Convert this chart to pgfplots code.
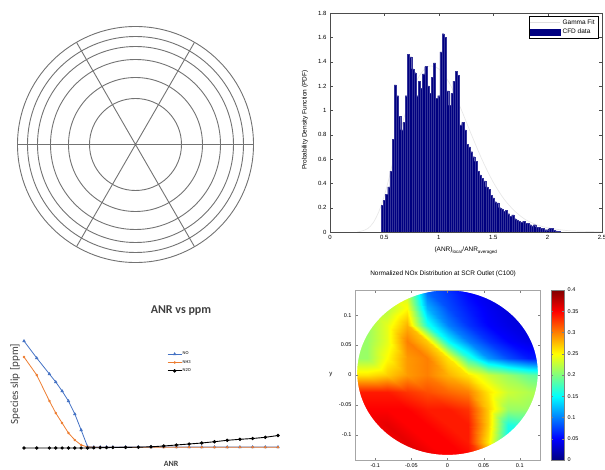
\documentclass[border=0pt]{standalone}
\usepackage{pgfplots}
\usepackage{pgfplotstable}
\pgfplotsset{compat=1.18}
\usepgfplotslibrary{polar}
\usepackage{fontspec}
\setmainfont{Liberation Sans}
\newfontfamily\calibri{Carlito}
\definecolor{xlblue}{HTML}{4472C4}
\definecolor{xlorange}{HTML}{ED7D31}
\definecolor{xlgray}{HTML}{404040}
\definecolor{mnavy}{rgb}{0,0,0.5}

\pgfplotstableread{
x y
0.47 0.22
0.49 0.26
0.51 0.31
0.53 0.37
0.55 0.50
0.57 0.76
0.59 1.21
0.61 1.12
0.63 0.95
0.65 0.84
0.67 0.90
0.69 1.12
0.71 1.46
0.73 1.44
0.75 1.34
0.77 1.31
0.79 1.12
0.81 1.24
0.83 1.18
0.85 1.30
0.87 1.36
0.89 1.20
0.91 1.14
0.93 1.27
0.95 1.39
0.97 1.10
0.99 1.12
1.01 1.48
1.03 1.63
1.05 1.60
1.07 1.16
1.09 1.04
1.11 1.14
1.13 1.24
1.15 1.32
1.17 1.29
1.19 0.88
1.21 0.90
1.23 0.84
1.25 0.72
1.27 0.70
1.29 0.66
1.31 0.62
1.33 0.58
1.35 0.50
1.37 0.47
1.39 0.44
1.41 0.42
1.43 0.37
1.45 0.35
1.47 0.30
1.49 0.28
1.51 0.25
1.53 0.24
1.55 0.20
1.57 0.19
1.59 0.17
1.61 0.18
1.63 0.15
1.65 0.13
1.67 0.14
1.69 0.11
1.71 0.10
1.73 0.09
1.75 0.08
1.77 0.09
1.79 0.07
1.81 0.07
1.83 0.06
1.85 0.05
1.87 0.06
1.89 0.04
1.91 0.04
1.93 0.03
1.95 0.03
1.97 0.02
1.99 0.02
2.01 0.03
2.03 0.03
2.05 0.015
2.07 0.01
2.09 0.005
2.11 0
}\histdata

\pgfplotstableread{
x y z
-0.14 -0.14 0.35
-0.112 -0.14 0.35
-0.084 -0.14 0.35
-0.056 -0.14 0.36
-0.028 -0.14 0.36
0 -0.14 0.35
0.028 -0.14 0.35
0.056 -0.14 0.30
0.084 -0.14 0.20
0.112 -0.14 0.16
0.14 -0.14 0.17
-0.14 -0.112 0.35
-0.112 -0.112 0.35
-0.084 -0.112 0.35
-0.056 -0.112 0.36
-0.028 -0.112 0.35
0 -0.112 0.35
0.028 -0.112 0.34
0.056 -0.112 0.26
0.084 -0.112 0.15
0.112 -0.112 0.16
0.14 -0.112 0.17
-0.14 -0.084 0.35
-0.112 -0.084 0.35
-0.084 -0.084 0.36
-0.056 -0.084 0.35
-0.028 -0.084 0.35
0 -0.084 0.34
0.028 -0.084 0.34
0.056 -0.084 0.27
0.084 -0.084 0.16
0.112 -0.084 0.17
0.14 -0.084 0.18
-0.14 -0.056 0.35
-0.112 -0.056 0.35
-0.084 -0.056 0.35
-0.056 -0.056 0.35
-0.028 -0.056 0.34
0 -0.056 0.34
0.028 -0.056 0.33
0.056 -0.056 0.27
0.084 -0.056 0.21
0.112 -0.056 0.21
0.14 -0.056 0.21
-0.14 -0.028 0.34
-0.112 -0.028 0.34
-0.084 -0.028 0.34
-0.056 -0.028 0.33
-0.028 -0.028 0.32
0 -0.028 0.31
0.028 -0.028 0.30
0.056 -0.028 0.26
0.084 -0.028 0.23
0.112 -0.028 0.22
0.14 -0.028 0.21
-0.14 0 0.26
-0.112 0 0.26
-0.084 0 0.27
-0.056 0 0.29
-0.028 0 0.30
0 0 0.28
0.028 0 0.26
0.056 0 0.23
0.084 0 0.21
0.112 0 0.19
0.14 0 0.18
-0.14 0.028 0.21
-0.112 0.028 0.21
-0.084 0.028 0.25
-0.056 0.028 0.29
-0.028 0.028 0.30
0 0.028 0.26
0.028 0.028 0.17
0.056 0.028 0.11
0.084 0.028 0.08
0.112 0.028 0.06
0.14 0.028 0.06
-0.14 0.056 0.21
-0.112 0.056 0.21
-0.084 0.056 0.24
-0.056 0.056 0.30
-0.028 0.056 0.27
0 0.056 0.15
0.028 0.056 0.10
0.056 0.056 0.07
0.084 0.056 0.05
0.112 0.056 0.04
0.14 0.056 0.04
-0.14 0.084 0.21
-0.112 0.084 0.21
-0.084 0.084 0.24
-0.056 0.084 0.28
-0.028 0.084 0.16
0 0.084 0.10
0.028 0.084 0.07
0.056 0.084 0.05
0.084 0.084 0.04
0.112 0.084 0.035
0.14 0.084 0.035
-0.14 0.112 0.21
-0.112 0.112 0.21
-0.084 0.112 0.22
-0.056 0.112 0.25
-0.028 0.112 0.12
0 0.112 0.08
0.028 0.112 0.06
0.056 0.112 0.045
0.084 0.112 0.035
0.112 0.112 0.035
0.14 0.112 0.035
-0.14 0.14 0.22
-0.112 0.14 0.22
-0.084 0.14 0.23
-0.056 0.14 0.22
-0.028 0.14 0.09
0 0.14 0.07
0.028 0.14 0.05
0.056 0.14 0.04
0.084 0.14 0.035
0.112 0.14 0.035
0.14 0.14 0.035
}\contourdata

\pgfplotsset{/pgf/number format/assume math mode=true}

\begin{document}
\begin{tikzpicture}
\useasboundingbox (0pt,0pt) rectangle (605pt,469pt);

% ---------- Panel 1: polar grid ----------
\begin{polaraxis}[
  at={(135.5pt,324.5pt)}, anchor=center,
  scale only axis, width=236pt, height=236pt,
  xmin=0, xmax=360, ymin=0, ymax=118,
  xtick={0,60,120,180,240,300},
  ytick={46,67,85,98,108},
  xticklabels={}, yticklabels={},
  grid=major,
  major grid style={black!55, line width=0.9pt},
  axis line style={black!55, line width=0.9pt},
  major tick length=0pt,
]
\addplot[draw=none] coordinates {(0,0)};
\end{polaraxis}

% ---------- Panel 2: histogram ----------
\begin{axis}[
  at={(330pt,237pt)}, anchor=south west,
  scale only axis, width=272pt, height=219pt,
  xmin=0, xmax=2.5, ymin=0, ymax=1.8,
  xtick={0,0.5,1,1.5,2,2.5},
  ytick={0,0.2,0.4,0.6,0.8,1,1.2,1.4,1.6,1.8},
  tick align=inside, major tick length=3pt,
  ticklabel style={font=\fontsize{6}{7}\selectfont},
  axis line style={black!70, line width=0.4pt},
  tick style={black!70},
  ylabel={Probability Density Function (PDF)},
  ylabel style={font=\fontsize{6.5}{7}\selectfont, at={(-0.092,0.511)}, anchor=center, rotate=0},
  xlabel={(ANR)\textsubscript{local}/ANR\textsubscript{averaged}},
  xlabel style={font=\fontsize{6.5}{7}\selectfont, at={(0.5,-0.085)}, anchor=center},
  legend style={at={(0.985,0.985)}, anchor=north east, font=\fontsize{6.5}{7}\selectfont,
    inner sep=1pt, row sep=-1pt, draw=black, line width=0.4pt},
  legend cell align=left,
]
\addplot[color=gray!18, line width=0.7pt, smooth,
  legend image code/.code={\draw[gray!25, line width=0.8pt] (0pt,0pt) -- (30pt,0pt);}]
  coordinates {(0.25,0) (0.3,0.01) (0.35,0.03) (0.4,0.08) (0.45,0.17) (0.5,0.3) (0.55,0.47) (0.6,0.66) (0.7,1.0) (0.8,1.25) (0.9,1.36) (1.0,1.34) (1.1,1.22) (1.2,1.02) (1.3,0.8) (1.4,0.59) (1.5,0.41) (1.6,0.27) (1.7,0.17) (1.8,0.1) (1.9,0.06) (2.0,0.035) (2.2,0.01) (2.5,0.002)};
\addlegendentry{Gamma Fit}
\addplot[ybar interval, fill=mnavy, draw=mnavy!80!white, line width=0.12pt,
  legend image code/.code={\fill[mnavy] (0pt,-3pt) rectangle (30pt,3pt);}]
  table[x=x, y=y] {\histdata};
\addlegendentry{CFD data}
\end{axis}

% ---------- Panel 3: ANR vs ppm ----------
\begin{axis}[
  at={(24pt,21pt)}, anchor=south west,
  scale only axis, width=254pt, height=107pt,
  xmin=0, xmax=20, ymin=0, ymax=107,
  axis line style={draw=none}, xtick=\empty, ytick=\empty,
  clip=false,
  title={\bfseries ANR vs ppm},
  title style={font=\calibri\fontsize{12}{13}\selectfont, text=xlgray, at={(0.618,1.224)}, anchor=center},
  ylabel={Species slip [ppm]},
  ylabel style={font=\calibri\fontsize{11}{12}\selectfont, text=xlgray, at={(-0.035,0.598)}, anchor=center},
  xlabel={\bfseries ANR},
  xlabel style={font=\calibri\fontsize{8}{9}\selectfont, text=xlgray, at={(0.579,-0.15)}, anchor=center},
  legend style={at={(0.563,0.905)}, anchor=north west, draw=none, fill=none,
    font=\calibri\fontsize{4.5}{5}\selectfont, row sep=3pt, inner sep=0pt, nodes={inner sep=0.5pt}},
  legend cell align=left,
  legend image code/.code={\draw[mark repeat=2,mark phase=2,#1] plot coordinates {(0pt,0pt) (7pt,0pt) (14pt,0pt)};},
]
\addplot[color=xlblue, line width=0.8pt, mark=triangle*, mark size=1.2pt]
  coordinates {(0,107) (1,90) (2,74) (2.5,66) (3,57) (3.5,47) (4,34) (4.5,18) (5,1.5) (5.5,1) (6,1) (6.5,1) (7,1) (8,1) (9,1) (10,1) (11,1) (12,1) (13,1) (14,1) (15,1) (16,1) (17,1) (18,1) (19,1) (20,1)};
\addlegendentry{NO}
\addplot[color=xlorange, line width=0.8pt, mark=*, mark size=0.8pt]
  coordinates {(0,91) (1,73) (2,47) (2.5,35) (3,25) (3.5,15) (4,8) (4.5,3) (5,1) (5.5,0.8) (6,0.8) (6.5,0.8) (7,0.8) (8,0.8) (9,0.8) (10,0.8) (11,0.8) (12,0.8) (13,0.8) (14,0.8) (15,0.8) (16,0.8) (17,0.8) (18,0.8) (19,0.8) (20,0.8)};
\addlegendentry{NH3}
\addplot[color=black, line width=0.9pt, mark=*, mark size=1.2pt]
  coordinates {(0,0) (1,0) (2,0) (2.5,0) (3,0) (3.5,0) (4,0) (4.5,0) (5,0) (5.5,0.2) (6,0.3) (6.5,0.4) (7,0.5) (8,0.6) (9,0.8) (10,1.2) (11,2) (12,3) (13,4) (14,5) (15,6.3) (16,7.7) (17,8.7) (18,9.5) (19,10.7) (20,12.5)};
\addlegendentry{N2O}
\end{axis}

% ---------- Panel 4: NOx distribution ----------
\begin{axis}[
  at={(355pt,9pt)}, anchor=south west,
  scale only axis, width=185pt, height=170pt,
  xmin=-0.128, xmax=0.128, ymin=-0.142, ymax=0.142,
  axis on top,
  colormap/jet,
  point meta min=0, point meta max=0.4,
  colorbar,
  colorbar shift/.style={xshift=11pt},
  colorbar style={width=13pt,
    ytick={0,0.05,0.1,0.15,0.2,0.25,0.3,0.35,0.4},
    yticklabel style={font=\fontsize{5.5}{6}\selectfont, /pgf/number format/fixed, /pgf/number format/precision=2},
    tick align=inside, major tick length=2pt,
    axis line style={black!50}, tick style={black!50}},
  xtick={-0.1,-0.05,0,0.05,0.1},
  ytick={-0.1,-0.05,0,0.05,0.1},
  scaled ticks=false,
  ticklabel style={font=\fontsize{5.5}{6}\selectfont, /pgf/number format/fixed, /pgf/number format/precision=2},
  tick align=inside, major tick length=2.5pt,
  axis line style={black!35}, tick style={black!50},
  title={Normalized NOx Distribution at SCR Outlet (C100)},
  title style={font=\fontsize{6.5}{7}\selectfont, at={(0.476,1.059)}, anchor=center},
  ylabel={y},
  ylabel style={font=\fontsize{6}{7}\selectfont, at={(-0.13,0.5)}, anchor=center, rotate=-90},
]
\addplot[surf, shader=interp, mesh/cols=11, point meta=explicit]
  table[x=x, y=y, meta=z] {\contourdata};
\fill[white, even odd rule] (rel axis cs:-0.05,-0.05) rectangle (rel axis cs:1.05,1.05)
  (axis cs:0,0.004) ellipse [x radius=0.125, y radius=0.1375];
\end{axis}

\end{tikzpicture}
\end{document}
